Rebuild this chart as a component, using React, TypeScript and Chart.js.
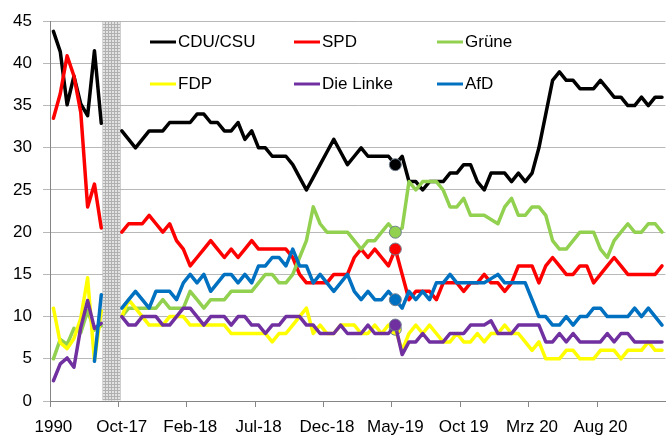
import React, { useEffect, useRef } from 'react';
import { Chart, registerables } from 'chart.js';

Chart.register(...registerables);

// ---------- categories ----------
const ELECTION_YEARS = ['1990', '1994', '1998', '2002', '2005', '2009', '2013', '2017'];
const GAP_SLOTS = 2;
const TICK_LABELS = ['1990', 'Oct-17', 'Feb-18', 'Jul-18', 'Dec-18', 'May-19', 'Oct 19', 'Mrz 20', 'Aug 20'];
const TICK_EVERY = 10;
const Y_MAX = 45;
const Y_STEP = 5;

// ---------- series names / colours ----------
const SERIES_NAMES = ['CDU/CSU', 'SPD', 'Grüne', 'FDP', 'Die Linke', 'AfD'];
const SERIES_COLORS = ['#000000', '#FF0000', '#92D050', '#FFFF00', '#7030A0', '#0070C0'];

// ---------- election results (1990 - 2017) ----------
const CDU_ELECTIONS = [43.8, 41.4, 35.1, 38.5, 35.2, 33.8, 41.5, 32.9];
const SPD_ELECTIONS = [33.5, 36.4, 40.9, 38.5, 34.2, 23.0, 25.7, 20.5];
const GRUENE_ELECTIONS = [5.0, 7.3, 6.7, 8.6, 8.1, 10.7, 8.4, 8.9];
const FDP_ELECTIONS = [11.0, 6.9, 6.2, 7.4, 9.8, 14.6, 4.8, 10.7];
const LINKE_ELECTIONS = [2.4, 4.4, 5.1, 4.0, 8.7, 11.9, 8.6, 9.2];
const AFD_ELECTIONS = [null, null, null, null, null, null, 4.7, 12.6];

// ---------- polls, Oct-17 onwards (half-monthly) ----------
const CDU_POLLS = [
  32, 31, 30, 31, 32, 32, 32, 33, 33, 33,
  33, 34, 34, 33, 33, 32, 32, 33, 31, 32,
  30, 30, 29, 29, 29, 28, 26.5, 25, 26.5, 28,
  29.5, 31, 29.5, 28, 29, 30, 29, 29, 29, 29,
  28, 29, 26, 26, 25, 26, 26, 26, 27, 27,
  28, 28, 26, 25, 27, 27, 27, 26, 27, 26,
  27, 30, 34, 38, 39, 38, 38, 37, 37, 37,
  38, 37, 36, 36, 35, 35, 36, 35, 36, 36,
];
const SPD_POLLS = [
  20, 21, 21, 21, 22, 21, 20, 21, 19, 18,
  16, 17, 18, 19, 18, 17, 18, 17, 18, 19,
  18, 18, 18, 18, 18, 17, 15, 14, 14, 14,
  14, 15, 15, 15, 17, 18, 17, 18, 17, 16,
  18, 15, 12, 13, 13, 13, 12, 14, 14, 14,
  13, 14, 14, 15, 14, 14, 13, 14, 16, 16,
  16, 14, 16, 17, 16, 15, 15, 16, 16, 14,
  15, 16, 17, 16, 15, 15, 15, 15, 15, 16,
];
const GRUENE_POLLS = [
  10, 11, 11, 11, 11, 11, 12, 11, 11, 11,
  13, 12, 11, 12, 12, 12, 13, 13, 13, 13,
  14, 15, 15, 14, 14, 15, 17, 19, 23, 21,
  20, 20, 20, 20, 19, 18, 19, 19, 20, 21,
  20, 20.5, 26, 25, 26, 26, 26, 25, 23, 23,
  24, 22, 22, 22, 21.5, 21, 23, 24, 22, 22,
  23, 23, 22, 19, 18, 18, 19, 20, 20, 20,
  18, 17, 19, 20, 21, 20, 20, 21, 21, 20,
];
const FDP_POLLS = [
  10, 12, 11, 10, 9, 9, 9, 10, 10, 10,
  9, 9, 9, 9, 9, 9, 8, 8, 8, 8,
  8, 8, 7, 8, 8, 9, 10, 11, 8, 9,
  8, 8, 9, 9, 9, 8, 8, 9, 8, 9,
  8.5, 6, 8, 9, 8, 9, 8, 7, 7, 8,
  7, 7, 8, 7, 8, 8, 9, 8, 8, 7,
  6, 7, 5, 5, 5, 6, 6, 5, 5, 5,
  6, 6, 6, 5, 6, 6, 6, 7, 6, 6,
];
const LINKE_POLLS = [
  10, 9, 9, 10, 10, 10, 9, 9, 10, 11,
  11, 10, 9, 10, 10, 10, 9, 10, 10, 9,
  9, 8, 9, 9, 10, 10, 10, 9, 9, 8,
  8, 8, 9, 8, 8, 8, 9, 8, 8, 8,
  9, 5.5, 7, 7, 8, 7, 7, 7, 8, 8,
  8, 9, 9, 9, 9.5, 8, 8, 8, 9, 9,
  9, 9, 7, 7, 8, 7, 8, 7, 7, 7,
  7, 8, 7, 8, 8, 7, 7, 7, 7, 7,
];
const AFD_POLLS = [
  11, 12, 13, 12, 11, 13, 13, 13, 12, 14,
  15, 14, 15, 13, 14, 15, 15, 14, 15, 14,
  16, 16, 17, 17, 16, 18, 16, 16, 14, 15,
  14, 13, 14, 15, 13, 12, 13, 12, 12, 13,
  12, 11, 13, 12, 13, 12, 14, 14, 15, 14,
  14, 14, 14, 14, 14.5, 15, 14, 14, 14, 14,
  12, 10, 10, 9, 9, 10, 9, 10, 10, 11,
  11, 10, 10, 10, 10, 11, 10, 11, 10, 9,
];

// highlighted poll (May-19): index within the poll series
const MARKER_POLL_INDEX = 40;

// ---------- derived ----------
const GAP_NULLS = Array(GAP_SLOTS).fill(null);
const CATEGORIES = [
  ...ELECTION_YEARS,
  ...GAP_NULLS.map((_, k) => 'gap' + k),
  ...CDU_POLLS.map((_, k) => 'poll' + k),
];
const MARKER_INDEX = ELECTION_YEARS.length + GAP_SLOTS + MARKER_POLL_INDEX;

const ELECTIONS = [CDU_ELECTIONS, SPD_ELECTIONS, GRUENE_ELECTIONS, FDP_ELECTIONS, LINKE_ELECTIONS, AFD_ELECTIONS];
const POLLS = [CDU_POLLS, SPD_POLLS, GRUENE_POLLS, FDP_POLLS, LINKE_POLLS, AFD_POLLS];

const GAP_BAND = [
  ...ELECTION_YEARS.map(() => null),
  ...GAP_NULLS.map(() => Y_MAX),
  ...CDU_POLLS.map(() => null),
];

const FONT_FAMILY = '"Liberation Sans", Arial, sans-serif';

function makeHatch() {
  const c = document.createElement('canvas');
  c.width = 3;
  c.height = 3;
  const g = c.getContext('2d');
  if (!g) return '#cccccc';
  g.fillStyle = '#e2e2e2';
  g.fillRect(0, 0, 3, 3);
  g.fillStyle = '#b0b0b0';
  g.fillRect(0, 0, 3, 1);
  g.fillRect(0, 0, 1, 3);
  return g.createPattern(c, 'repeat') || '#cccccc';
}

const inlineLegend = {
  id: 'inlineLegend',
  afterDraw(chart: any) {
    const ctx = chart.ctx;
    const colX = [150, 294, 437];
    const rowY = [42, 84];
    ctx.save();
    ctx.font = '17px ' + FONT_FAMILY;
    ctx.textBaseline = 'middle';
    ctx.textAlign = 'left';
    SERIES_NAMES.forEach((name, k) => {
      const x = colX[k % 3];
      const y = rowY[Math.floor(k / 3)];
      ctx.strokeStyle = SERIES_COLORS[k];
      ctx.lineWidth = 3;
      ctx.lineCap = 'butt';
      ctx.beginPath();
      ctx.moveTo(x, y);
      ctx.lineTo(x + 26, y);
      ctx.stroke();
      ctx.fillStyle = '#000';
      ctx.fillText(name, x + 28, y);
    });
    ctx.restore();
  },
};

export default function App() {
  const ref = useRef<HTMLCanvasElement | null>(null);

  useEffect(() => {
    if (!ref.current) return;
    const hatch = makeHatch();

    const lineSets = SERIES_NAMES.map((name, k) => ({
      type: 'line' as const,
      label: name,
      data: [...ELECTIONS[k], ...GAP_NULLS, ...POLLS[k]],
      borderColor: SERIES_COLORS[k],
      backgroundColor: SERIES_COLORS[k],
      borderWidth: 3.5,
      tension: 0,
      fill: false,
      spanGaps: false,
      borderJoinStyle: 'round' as const,
      borderCapStyle: 'round' as const,
      pointRadius: (c: any) => (c.dataIndex === MARKER_INDEX ? 6 : 0),
      pointHoverRadius: 0,
      pointBackgroundColor: SERIES_COLORS[k],
      pointBorderColor: '#6f7f8f',
      pointBorderWidth: 1,
      order: 6 - k,
    }));

    const chart = new Chart(ref.current, {
      type: 'line',
      data: {
        labels: CATEGORIES,
        datasets: [
          {
            type: 'bar' as const,
            label: 'gap',
            data: GAP_BAND,
            backgroundColor: hatch as any,
            borderWidth: 0,
            barPercentage: 1.65,
            categoryPercentage: 1,
            order: 10,
          } as any,
          ...lineSets,
        ],
      },
      options: {
        responsive: false,
        devicePixelRatio: 1,
        animation: false,
        events: [],
        layout: { padding: { top: 20, right: 0, bottom: 0, left: 0 } },
        plugins: {
          legend: { display: false },
          tooltip: { enabled: false },
          title: { display: false },
        },
        scales: {
          x: {
            type: 'category',
            offset: true,
            grid: {
              display: true,
              offset: true,
              drawOnChartArea: false,
              drawTicks: true,
              tickLength: 6,
              tickWidth: 1,
              tickColor: (c: any) => (c.index % TICK_EVERY === 0 ? '#868686' : 'rgba(0,0,0,0)'),
            },
            border: { display: true, color: '#868686', width: 1 },
            ticks: {
              autoSkip: false,
              maxRotation: 0,
              minRotation: 0,
              padding: 10,
              color: '#000',
              font: { family: FONT_FAMILY, size: 17 },
              callback: (_v: any, index: number) =>
                index % TICK_EVERY === 0 ? TICK_LABELS[index / TICK_EVERY] ?? '' : '',
            },
            afterFit: (s: any) => {
              s.height = 36;
            },
          },
          y: {
            min: 0,
            max: Y_MAX,
            ticks: {
              stepSize: Y_STEP,
              padding: 11,
              color: '#000',
              font: { family: FONT_FAMILY, size: 17 },
            },
            grid: {
              color: '#b8b8b8',
              lineWidth: 1,
              tickLength: 7,
              drawTicks: true,
            },
            border: { display: true, color: '#868686', width: 1 },
            afterFit: (s: any) => {
              s.width = 50;
            },
          },
        },
      },
      plugins: [inlineLegend],
    });

    return () => chart.destroy();
  }, []);

  return (
    <div
      style={{
        position: 'fixed',
        left: 0,
        top: 0,
        width: 667,
        height: 437,
        overflow: 'hidden',
        background: '#fff',
      }}
    >
      <canvas ref={ref} width={672} height={437} style={{ display: 'block', width: 672, height: 437 }} />
    </div>
  );
}
